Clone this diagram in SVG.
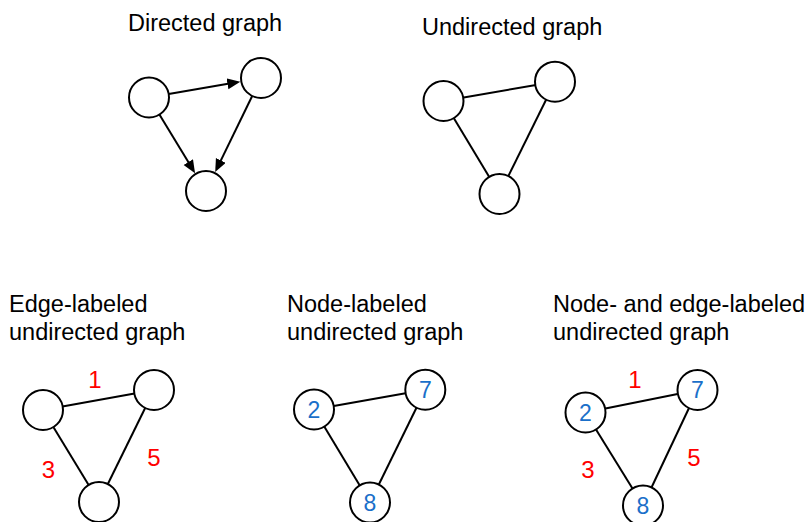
<svg xmlns="http://www.w3.org/2000/svg" width="808" height="522" viewBox="0 0 808 522">
<style>
.title{font-family:"Liberation Sans",Arial,sans-serif;font-size:23.5px;fill:#000}
.node{fill:#fff;stroke:#000;stroke-width:2}
.edge{stroke:#000;stroke-width:2;fill:none}
.el{font-family:"Liberation Sans",Arial,sans-serif;font-size:24px;fill:#f00;text-anchor:middle}
.nl{font-family:"Liberation Sans",Arial,sans-serif;font-size:23px;fill:#1a6fc9;text-anchor:middle}
</style>
<defs>
<marker id="arr" markerUnits="userSpaceOnUse" markerWidth="14" markerHeight="12" refX="5" refY="5.5" orient="auto">
<path d="M0,0 L13,5.5 L0,11 z" fill="#000"/>
</marker>
</defs>
<rect width="808" height="522" fill="#fff"/>
<g id="titles">
<text class="title" x="128" y="31">Directed graph</text>
<text class="title" x="422" y="35">Undirected graph</text>
<text class="title" x="9" y="311.5">Edge-labeled</text>
<text class="title" x="9" y="339.5">undirected graph</text>
<text class="title" x="287" y="311.5">Node-labeled</text>
<text class="title" x="287" y="339.5">undirected graph</text>
<text class="title" x="553" y="311.5">Node- and edge-labeled</text>
<text class="title" x="553" y="339.5">undirected graph</text>
</g>
<g id="connectors">
<line class="edge" x1="168.7" y1="94.1" x2="232.4" y2="83" marker-end="url(#arr)"/>
<line class="edge" x1="159.4" y1="114.6" x2="190.9" y2="166.3" marker-end="url(#arr)"/>
<line class="edge" x1="252.2" y1="96" x2="218.7" y2="164.9" marker-end="url(#arr)"/>
<line class="edge" x1="443.5" y1="101" x2="555" y2="81.7"/>
<line class="edge" x1="443.5" y1="101" x2="499.5" y2="194"/>
<line class="edge" x1="555" y1="81.7" x2="499.5" y2="194"/>
<line class="edge" x1="43" y1="410" x2="154" y2="390"/>
<line class="edge" x1="43" y1="410" x2="99" y2="502"/>
<line class="edge" x1="154" y1="390" x2="99" y2="502"/>
<line class="edge" x1="314" y1="409.5" x2="425.3" y2="389.7"/>
<line class="edge" x1="314" y1="409.5" x2="370" y2="502.5"/>
<line class="edge" x1="425.3" y1="389.7" x2="370" y2="502.5"/>
<line class="edge" x1="585.5" y1="412.5" x2="697.5" y2="390"/>
<line class="edge" x1="585.5" y1="412.5" x2="643" y2="505.5"/>
<line class="edge" x1="697.5" y1="390" x2="643" y2="505.5"/>
</g>
<g id="d1"><circle class="node" cx="149" cy="97.5" r="20"/></g>
<g id="d2"><circle class="node" cx="261" cy="78" r="20"/></g>
<g id="d3"><circle class="node" cx="206" cy="191" r="20"/></g>
<g id="u1"><circle class="node" cx="443.5" cy="101" r="20"/></g>
<g id="u2"><circle class="node" cx="555" cy="81.7" r="20"/></g>
<g id="u3"><circle class="node" cx="499.5" cy="194" r="20"/></g>
<g id="e1"><circle class="node" cx="43" cy="410" r="20"/></g>
<g id="e2"><circle class="node" cx="154" cy="390" r="20"/></g>
<g id="e3"><circle class="node" cx="99" cy="502" r="20"/></g>
<g id="edge-labels-1">
<text class="el" x="95" y="387.5">1</text>
<text class="el" x="48.5" y="477.5">3</text>
<text class="el" x="154" y="465.5">5</text>
</g>
<g id="n1"><circle class="node" cx="314" cy="409.5" r="20"/><text class="nl" x="314" y="417.8">2</text></g>
<g id="n2"><circle class="node" cx="425.3" cy="389.7" r="20"/><text class="nl" x="425.3" y="398">7</text></g>
<g id="n3"><circle class="node" cx="370" cy="502.5" r="20"/><text class="nl" x="370" y="510.8">8</text></g>
<g id="m1"><circle class="node" cx="585.5" cy="412.5" r="20"/><text class="nl" x="585.5" y="420.8">2</text></g>
<g id="m2"><circle class="node" cx="697.5" cy="390" r="20"/><text class="nl" x="697.5" y="398.3">7</text></g>
<g id="m3"><circle class="node" cx="643" cy="505.5" r="20"/><text class="nl" x="643" y="513.8">8</text></g>
<g id="edge-labels-2">
<text class="el" x="635" y="388">1</text>
<text class="el" x="588" y="477.5">3</text>
<text class="el" x="694" y="465.5">5</text>
</g>
</svg>
